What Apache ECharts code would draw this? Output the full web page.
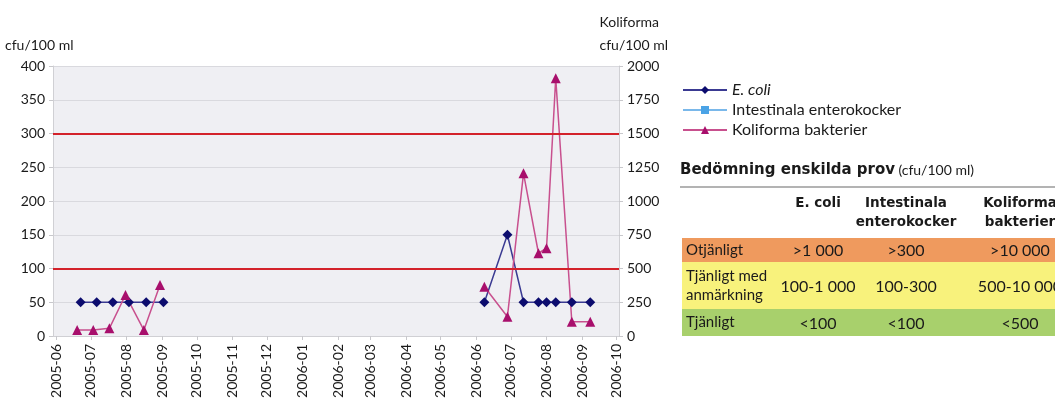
<!DOCTYPE html>
<html>
<head>
<meta charset="utf-8">
<script src="https://cdn.jsdelivr.net/npm/echarts@6/dist/echarts.min.js"></script>
<style>
html,body{margin:0;padding:0;background:#fff;}
#chart{width:1055px;height:407px;}
</style>
</head>
<body>
<div id="chart"></div>
<script>
// ---- data ----
var ecoliDates2005 = ['2005-06-22','2005-07-06','2005-07-20','2005-08-03','2005-08-18','2005-09-02'];
var ecoliValues2005 = [50, 50, 50, 50, 50, 50];
var koliDates2005 = ['2005-06-19','2005-07-03','2005-07-17','2005-07-31','2005-08-16','2005-08-30'];
var koliValues2005 = [44, 44, 57, 304, 44, 378];
var dates2006 = ['2006-06-08','2006-06-28','2006-07-12','2006-07-25','2006-08-01','2006-08-09','2006-08-23','2006-09-08'];
var ecoliValues2006 = [50, 150, 50, 50, 50, 50, 50, 50];
var koliValues2006 = [365, 143, 1205, 613, 650, 1910, 106, 106];
var enteroDates = [];
var enteroValues = [];
var limitLines = [100, 300];
var seriesNames = ['E. coli', 'Intestinala enterokocker', 'Koliforma bakterier'];
var leftAxisTitle = 'cfu/100 ml';
var rightAxisTitle = ['Koliforma', 'cfu/100 ml'];
var tableTitle = 'Bedömning enskilda prov';
var tableUnit = '(cfu/100 ml)';
var colHeaders = ['E. coli', 'Intestinala\nenterokocker', 'Koliforma\nbakterier'];
var rowLabels = ['Otjänligt', 'Tjänligt med\nanmärkning', 'Tjänligt'];
var ecoliLimits = ['>1 000', '100-1 000', '<100'];
var enteroLimits = ['>300', '100-300', '<100'];
var koliLimits = ['>10 000', '500-10 000', '<500'];

function zip(d, v) { return d.map(function (x, i) { return [x, v[i]]; }); }
var ecoliData = zip(ecoliDates2005, ecoliValues2005).concat([[ '2006-01-01', null ]]).concat(zip(dates2006, ecoliValues2006));
var koliData = zip(koliDates2005, koliValues2005).concat([[ '2006-01-01', null ]]).concat(zip(dates2006, koliValues2006));
var enteroData = zip(enteroDates, enteroValues);

var FONT = 'Lato, "DejaVu Sans", sans-serif';
var BFONT = '"DejaVu Sans", sans-serif';
var TXT = '#1a1a1a';

// ---- table graphics ----
var rowColors = ['#ef9a5e', '#f8f27c', '#a8d06c'];
var rowTops = [238, 262, 309];
var rowBottoms = [262, 309, 336];
var colX = [818, 906, 1020];
var g = [];
g.push({type:'text', left:5, top:38, style:{text:leftAxisTitle, font:'14px ' + FONT, fill:TXT}});
g.push({type:'text', right:387, top:11, style:{text:rightAxisTitle.join('\n'), font:'14px ' + FONT, fill:TXT, align:'right', lineHeight:23}});
g.push({type:'text', left:680, top:163, style:{
  text:'{b|' + tableTitle + '} {n|' + tableUnit + '}',
  rich:{b:{font:'bold 15px ' + BFONT, fill:TXT}, n:{font:'14px ' + FONT, fill:TXT}}
}});
g.push({type:'line', shape:{x1:680, y1:187, x2:1055, y2:187}, style:{stroke:'#9a9a9a', lineWidth:1.5}});
colHeaders.forEach(function (h, i) {
  g.push({type:'text', x:colX[i], y:194, style:{text:h, font:'bold 13.5px ' + BFONT, fill:TXT, align:'center', verticalAlign:'top', lineHeight:19}});
});
var cols = [ecoliLimits, enteroLimits, koliLimits];
rowLabels.forEach(function (lab, r) {
  g.push({type:'rect', shape:{x:682, y:rowTops[r], width:373, height:rowBottoms[r]-rowTops[r]}, style:{fill:rowColors[r]}});
  var cy = (rowTops[r] + rowBottoms[r]) / 2;
  g.push({type:'text', x:686, y:cy, style:{text:lab, font:'15px ' + FONT, fill:TXT, align:'left', verticalAlign:'middle', lineHeight:19}});
  cols.forEach(function (c, ci) {
    g.push({type:'text', x:colX[ci], y:cy + 1, style:{text:c[r], font:'16px ' + FONT, fill:TXT, align:'center', verticalAlign:'middle'}});
  });
});

var DAY = 86400000;
var option = {
  backgroundColor: '#ffffff',
  animation: false,
  textStyle: {fontFamily: FONT},
  grid: {left: 53, right: 436, top: 66, bottom: 71, show: true, backgroundColor: '#efeff3', borderWidth: 0},
  legend: {
    orient: 'vertical', left: 677, top: 77, itemWidth: 44, itemHeight: 10, itemGap: 4,
    data: seriesNames,
    textStyle: {fontSize: 16, color: TXT, fontFamily: FONT, rich: {i: {fontStyle: 'italic', fontSize: 16, color: TXT, fontFamily: FONT}}},
    formatter: function (n) { return n === 'E. coli' ? '{i|' + n + '}' : n; }
  },
  xAxis: {
    type: 'time',
    min: '2005-05-29', max: '2006-10-03',
    minInterval: 28 * DAY, maxInterval: 31 * DAY,
    axisLine: {lineStyle: {color: '#d0d0d4'}},
    axisTick: {show: true, length: 4, lineStyle: {color: '#c8c8cc'}},
    splitLine: {show: false},
    axisLabel: {rotate: 90, formatter: '{yyyy}-{MM}', fontSize: 14, color: TXT, fontFamily: FONT, showMinLabel: false, showMaxLabel: false, margin: 8, hideOverlap: false}
  },
  yAxis: [
    {type: 'value', min: 0, max: 400, interval: 50,
     axisLine: {show: true, lineStyle: {color: '#d0d0d4'}},
     axisTick: {show: true, length: 4, lineStyle: {color: '#c8c8cc'}},
     splitLine: {lineStyle: {color: '#d9d9de', width: 1}},
     axisLabel: {fontSize: 14, color: TXT, fontFamily: FONT, margin: 8}},
    {type: 'value', min: 0, max: 2000, interval: 250, position: 'right',
     axisLine: {show: true, lineStyle: {color: '#d0d0d4'}},
     axisTick: {show: true, length: 4, lineStyle: {color: '#c8c8cc'}},
     splitLine: {show: false},
     axisLabel: {fontSize: 14, color: TXT, fontFamily: FONT, margin: 8, formatter: function (v) { return String(v); }}}
  ],
  series: [
    {name: seriesNames[0], type: 'line', yAxisIndex: 0, data: ecoliData, connectNulls: false,
     symbol: 'diamond', symbolSize: 10, showAllSymbol: true,
     itemStyle: {color: '#0c0c6e'}, lineStyle: {color: '#3a3a92', width: 1.5},
     markLine: {silent: true, symbol: 'none', label: {show: false},
       lineStyle: {color: '#d3222a', width: 2, type: 'solid'},
       data: limitLines.map(function (v) { return {yAxis: v}; })}},
    {name: seriesNames[1], type: 'line', yAxisIndex: 0, data: enteroData,
     symbol: 'rect', symbolSize: 7,
     itemStyle: {color: '#4aa3e6'}, lineStyle: {color: '#7ab8ea', width: 1.5}},
    {name: seriesNames[2], type: 'line', yAxisIndex: 1, data: koliData, connectNulls: false,
     symbol: 'triangle', symbolSize: 10, showAllSymbol: true,
     itemStyle: {color: '#a80f6c'}, lineStyle: {color: '#c8508e', width: 1.5}}
  ],
  graphic: g
};
var chart = echarts.init(document.getElementById('chart'), null, {renderer: 'canvas'});
chart.setOption(option);
</script>
</body>
</html>
